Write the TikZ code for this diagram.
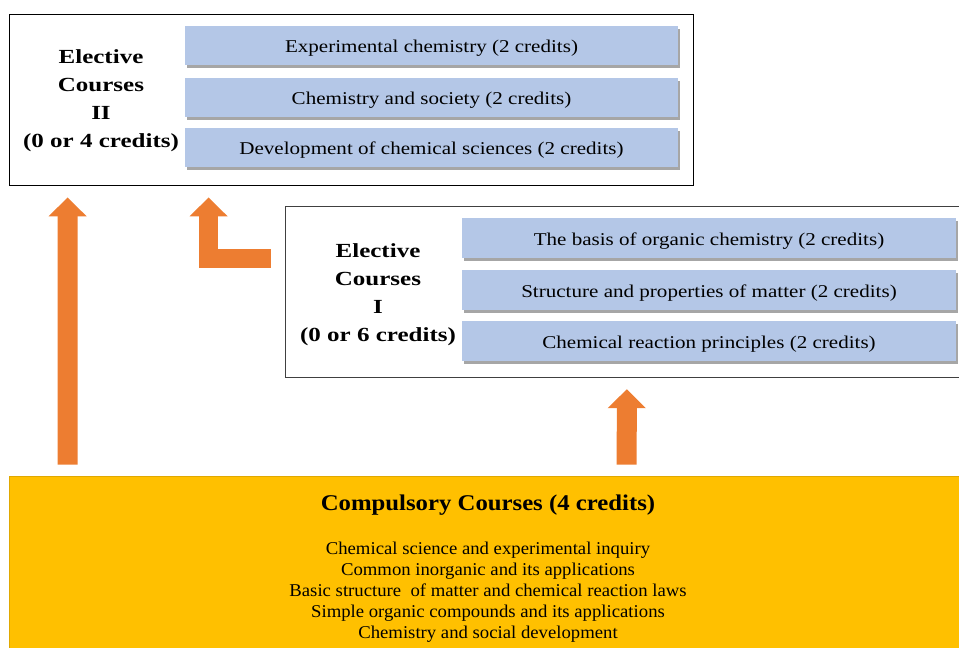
\documentclass[tikz,border=0pt]{standalone}
\usepackage{fontspec}
\setmainfont{Liberation Serif}
\newfontfamily\bluefont[FakeStretch=1.17]{Liberation Serif}
\newfontfamily\labfont[FakeStretch=1.25]{Liberation Serif}
\newfontfamily\titfont[FakeStretch=1.1]{Liberation Serif}
\newfontfamily\listfont[FakeStretch=1.04]{Liberation Serif}
\usetikzlibrary{shadows,arrows.meta,calc}
\definecolor{rowblue}{HTML}{B4C7E7}
\definecolor{arrorange}{HTML}{ED7D31}
\definecolor{compyellow}{HTML}{FFC000}
\definecolor{compedge}{HTML}{E0A800}
\tikzset{
  rowbox/.style={fill=rowblue, minimum width=493pt, minimum height=39pt, inner sep=0pt,
    text height=16pt, text depth=2pt,
    font=\bluefont\fontsize{18}{20}\selectfont,
    drop shadow={shadow xshift=2pt, shadow yshift=-3pt, fill=black, opacity=0.35}},
  grouplabel/.style={align=center, inner sep=0pt, font=\labfont\bfseries\fontsize{20}{28}\selectfont},
  bigarrow/.style={draw=arrorange, line width=20pt, line join=miter,
    -{Triangle[width=37pt,length=19pt]}},
}
\begin{document}
\begin{tikzpicture}[x=1pt,y=-1pt]
\useasboundingbox (0,0) rectangle (959,648);
% Elective courses II
\node[draw=black, line width=0.8pt, minimum width=684pt, minimum height=171pt, inner sep=0pt] (boxII) at (351,99.5) {};
\node[grouplabel] (labII) at (101,101) {Elective\\Courses\\II\\(0 or 4 credits)};
\node[rowbox] (r21) at (431.5,45.5) {Experimental chemistry (2 credits)};
\node[rowbox] (r22) at (431.5,97) {Chemistry and society (2 credits)};
\node[rowbox] (r23) at (431.5,147.5) {Development of chemical sciences (2 credits)};
% Elective courses I
\node[minimum width=673pt, minimum height=170pt, inner sep=0pt] (boxI) at (622.5,292) {};
\draw[draw=black!75, line width=0.8pt] (boxI.north east) -- (boxI.north west) -- (boxI.south west) -- (boxI.south east);
\node[grouplabel] (labI) at (378,294.5) {Elective\\Courses\\I\\(0 or 6 credits)};
\node[rowbox, minimum width=494pt, minimum height=40pt] (r11) at (709,238) {The basis of organic chemistry (2 credits)};
\node[rowbox, minimum width=494pt, minimum height=40pt] (r12) at (709,290) {Structure and properties of matter (2 credits)};
\node[rowbox, minimum width=494pt, minimum height=40pt] (r13) at (709,341) {Chemical reaction principles (2 credits)};
% Compulsory
\node[fill=compyellow, draw=compedge, line width=0.6pt, minimum width=958pt, minimum height=172pt, inner sep=0pt] (comp) at (488,562) {};
\node[font=\titfont\bfseries\fontsize{22.5}{26}\selectfont, inner sep=0pt] (comptitle) at (488,505) {Compulsory Courses (4 credits)};
\node[font=\listfont\fontsize{18}{21}\selectfont, align=center, inner sep=0pt] (complist) at (488,592) {Chemical science and experimental inquiry\\Common inorganic and its applications\\Basic structure~ of matter and chemical reaction laws\\Simple organic compounds and its applications\\Chemistry and social development};
% Arrows
\draw[bigarrow] ([xshift=59pt,yshift=11pt]comp.north west) -- ([xshift=59pt,yshift=-12pt]boxII.south west);
\draw[bigarrow] ([xshift=618pt,yshift=11pt]comp.north west) -- ([xshift=341pt,yshift=-12pt]boxI.south west);
\draw[bigarrow, line width=19pt] ([xshift=-15pt,yshift=34pt]boxI.west) -| ([xshift=200pt,yshift=-12pt]boxII.south west);
\end{tikzpicture}
\end{document}
